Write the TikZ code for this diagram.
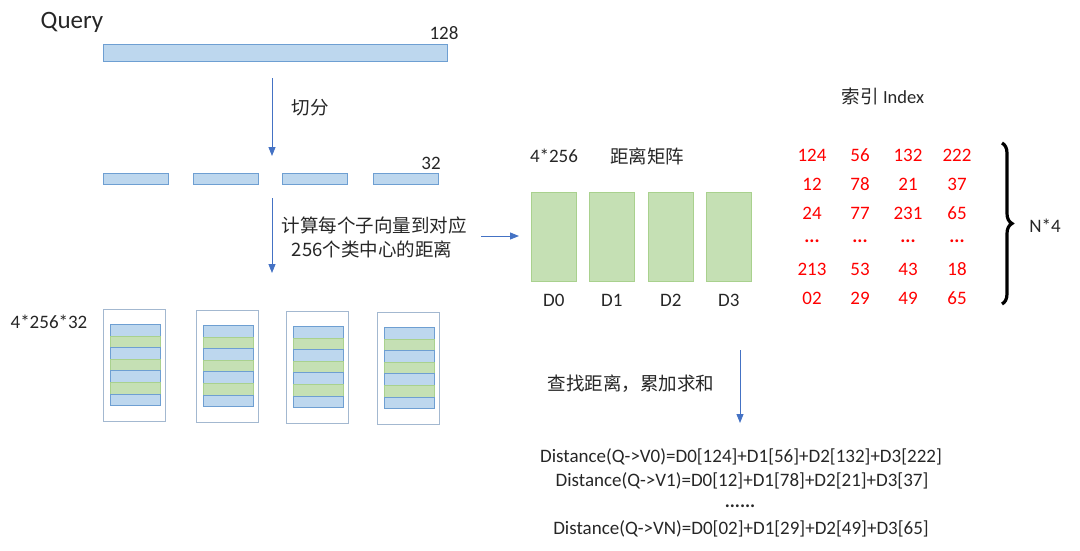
\documentclass[tikz,border=0pt]{standalone}
\usepackage{fontspec}
\setmainfont{Carlito}
\newfontfamily\cjk{Noto Sans CJK SC}
\usetikzlibrary{arrows.meta,decorations.pathreplacing}
\definecolor{bbfill}{HTML}{BDD7EE}
\definecolor{bbdraw}{HTML}{6E9FD2}
\definecolor{ggfill}{HTML}{C5E0B4}
\definecolor{ggdraw}{HTML}{A9D18E}
\definecolor{frdraw}{HTML}{A3B8D0}
\definecolor{arrblue}{HTML}{4472C4}
\definecolor{txt}{HTML}{262626}
\definecolor{idxred}{HTML}{FF0000}
\tikzset{
  bluebar/.style={draw=bbdraw, fill=bbfill, line width=0.8pt, inner sep=0pt, anchor=north west},
  greenbar/.style={draw=ggdraw, fill=ggfill, line width=0.8pt, inner sep=0pt, anchor=north west},
  frame/.style={draw=frdraw, fill=white, line width=1.2pt, inner sep=0pt, anchor=north west, minimum width=62pt, minimum height=112pt},
  flow/.style={draw=arrblue, line width=0.9pt, -{Triangle[length=9pt,width=7pt]}},
  lbl/.style={text=txt, font=\fontsize{19}{22}\selectfont, inner sep=1pt},
  clbl/.style={text=txt, font=\fontsize{18.5}{22}\selectfont\cjk, inner sep=1pt},
  idx/.style={text=idxred, font=\fontsize{19}{22}\selectfont, inner sep=1pt},
}
\begin{document}
\begin{tikzpicture}[x=1pt,y=-1pt]
\useasboundingbox (0,0) rectangle (1080,550);
% Query
\node[lbl, font=\fontsize{25}{28}\selectfont] (qt) at (72,22) {Query};
\node[bluebar, minimum width=344pt, minimum height=17pt] (qbar) at (103,44) {};
\node[lbl] (n128) at (444,33) {128};
% split arrow
\coordinate (a1s) at (272,78);
\coordinate (a1e) at (272,156);
\draw[flow] (a1s) -- (a1e);
\node[clbl] (qf) at (310,108) {切分};
% sub vectors
\foreach \i/\x in {1/103,2/193,3/282,4/373}{
  \node[bluebar, minimum width=65pt, minimum height=11pt] (sb\i) at (\x,173) {};
}
\node[lbl] (n32) at (431,163) {32};
% second arrow
\coordinate (a2s) at (272,198);
\coordinate (a2e) at (272,273);
\draw[flow] (a2s) -- (a2e);
\node[clbl] (c1) at (374,225) {计算每个子向量到对应};
\node[clbl] (c2) at (372,249) {256个类中心的距离};
% codebooks
\node[lbl] (cb) at (49,322) {4*256*32};
\foreach \i/\x/\y in {1/103/309,2/196/310,3/286/311,4/377/312}{
  \node[frame] (fr\i) at (\x,\y) {};
  \foreach \k in {0,...,6}{
    \pgfmathtruncatemacro{\odd}{mod(\k,2)}
    \ifnum\odd=0
      \node[bluebar, minimum width=50pt, minimum height=11.6pt] (st\i\k) at (\x+6.5,\y+15+11.6*\k) {};
    \else
      \node[greenbar, minimum width=50pt, minimum height=11.6pt] (st\i\k) at (\x+6.5,\y+15+11.6*\k) {};
    \fi
  }
}
% arrow to matrix
\coordinate (a3s) at (481,236);
\coordinate (a3e) at (519,236);
\draw[flow] (a3s) -- (a3e);
% distance matrix
\node[lbl] (m1) at (554,156) {4*256};
\node[clbl] (m2) at (647,156) {距离矩阵};
\foreach \i/\x in {0/531,1/589,2/648,3/706}{
  \node[greenbar, minimum width=45pt, minimum height=89pt] (D\i) at (\x,192) {};
  \node[lbl] (Dl\i) at ([yshift=-19pt]D\i.south) {D\i};
}
% index
\node[clbl] (it) at (883,96) {索引 {\fontspec{Carlito}Index}};
\foreach \r/\y/\a/\b/\c/\d in {1/155/124/56/132/222,2/184/12/78/21/37,3/213/24/77/231/65,4/241/{\textbf{...}}/{\textbf{...}}/{\textbf{...}}/{\textbf{...}},5/269/213/53/43/18,6/298/02/29/49/65}{
  \node[idx] (i\r a) at (812,\y) {\a};
  \node[idx] (i\r b) at (860,\y) {\b};
  \node[idx] (i\r c) at (908,\y) {\c};
  \node[idx] (i\r d) at (957,\y) {\d};
}
\coordinate (bt) at (1002,143);
\coordinate (bb) at (1002,304);
\draw[line width=3.2pt, decorate, decoration={brace, amplitude=10pt}] (bt) -- (bb);
\node[lbl] (n4) at (1045,226) {N*4};
% lookup arrow
\coordinate (a4s) at (740,350);
\coordinate (a4e) at (740,423);
\draw[flow] (a4s) -- (a4e);
\node[clbl] (lk) at (631,384) {查找距离，累加求和};
% results
\node[lbl] (r1) at (741,457) {Distance(Q->V0)=D0[124]+D1[56]+D2[132]+D3[222]};
\node[lbl] (r2) at (742,481) {Distance(Q->V1)=D0[12]+D1[78]+D2[21]+D3[37]};
\node[lbl, text height=4pt, text depth=0pt, anchor=base] (r3) at (740,507) {\textbf{......}};
\node[lbl] (r4) at (741,529) {Distance(Q->VN)=D0[02]+D1[29]+D2[49]+D3[65]};
\end{tikzpicture}
\end{document}
